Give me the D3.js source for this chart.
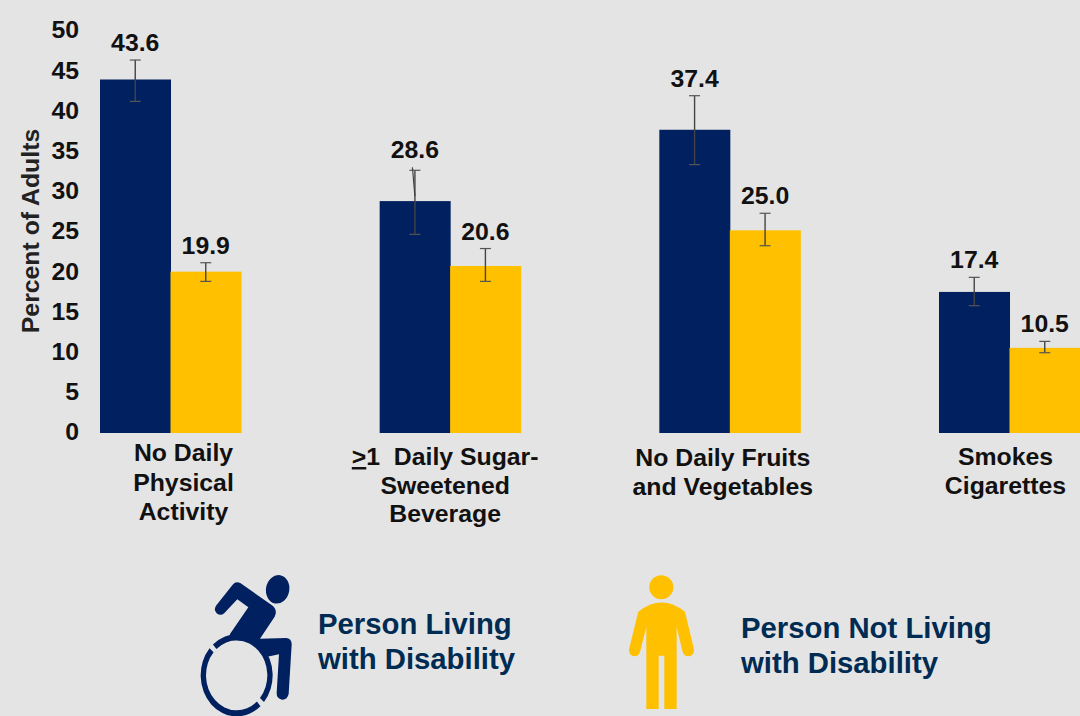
<!DOCTYPE html>
<html>
<head>
<meta charset="utf-8">
<script src="https://cdn.jsdelivr.net/npm/d3@7/dist/d3.min.js"></script>
<style>
  html, body { margin: 0; padding: 0; background: #e4e4e4; overflow: hidden; }
  text { font-family: "Liberation Sans", Arial, sans-serif; }
</style>
</head>
<body>
<div id="chart"></div>
<script>
// values
var categories = ["No Daily Physical Activity", "Daily Sugar-Sweetened Beverage", "No Daily Fruits and Vegetables", "Smokes Cigarettes"];
var seriesNames = ["Person Living with Disability", "Person Not Living with Disability"];
var disabilityValues = [43.6, 28.6, 37.4, 17.4];
var noDisabilityValues = [19.9, 20.6, 25.0, 10.5];
var disabilityLow = [40.9, 24.5, 33.1, 15.7];
var disabilityHigh = [46.0, 32.4, 41.6, 19.2];
var noDisabilityLow = [18.7, 18.7, 23.1, 9.9];
var noDisabilityHigh = [21.0, 22.75, 27.1, 11.3];
var yTicks = [0, 5, 10, 15, 20, 25, 30, 35, 40, 45, 50];
var categoryLines = [
    ["No Daily", "Physical", "Activity"],
    ["\u003E1  Daily Sugar-", "Sweetened", "Beverage"],
    ["No Daily Fruits", "and Vegetables"],
    ["Smokes", "Cigarettes"]
];

// layout only
var width = 1080, height = 716;
var labelDx = [13, -5, -7, -4];
var labelY = [452, 456, 457, 456];
var labelStep = [29.5, 28.5, 29, 28.5];
var navy = "#002060", gold = "#ffc000", legendText = "#002b53";
var fontSize = 24.8;

var svg = d3.select("#chart").append("svg")
    .attr("width", width)
    .attr("height", height)
    .style("display", "block");

svg.append("rect").attr("width", width).attr("height", height).attr("fill", "#e4e4e4");

var y = d3.scaleLinear().domain([0, 50]).range([433, 27.6]);
var x = d3.scaleBand().domain(categories).range([100, 1080]).paddingInner(0.4958).paddingOuter(0);
var x1 = d3.scaleBand().domain(seriesNames).range([0, x.bandwidth()]);

// Y axis, its labels sit a bit tighter than the bars in the original
var yLabels = y.copy().range([431, 29]);
var yAxis = svg.append("g")
    .attr("transform", "translate(82,0)")
    .call(d3.axisLeft(yLabels).tickValues(yTicks).tickSize(0).tickPadding(3));
yAxis.select(".domain").remove();
yAxis.selectAll("text")
    .attr("font-size", fontSize)
    .attr("font-weight", "bold")
    .attr("dy", "0.36em")
    .attr("fill", "#111");

svg.append("text")
    .attr("transform", "translate(39,231) rotate(-90)")
    .attr("text-anchor", "middle")
    .attr("font-size", fontSize)
    .attr("font-weight", "bold")
    .attr("fill", "#222")
    .text("Percent of Adults");

// bars, error bars, labels
var rows = [];
categories.forEach(function(c, i) {
    rows.push({cat: c, s: seriesNames[0], v: disabilityValues[i], lo: disabilityLow[i], hi: disabilityHigh[i], fill: navy, lift: i === 1 ? 3 : 0});
    rows.push({cat: c, s: seriesNames[1], v: noDisabilityValues[i], lo: noDisabilityLow[i], hi: noDisabilityHigh[i], fill: gold, lift: 0});
});

var groups = svg.selectAll(".bar").data(rows).enter().append("g").attr("class", "bar");

groups.append("rect")
    .attr("x", function(d) { return x(d.cat) + x1(d.s); })
    .attr("y", function(d) { return y(d.v); })
    .attr("width", x1.bandwidth() + 0.5)
    .attr("height", function(d) { return y(0) - y(d.v); })
    .attr("fill", function(d) { return d.fill; });

function midX(d) { return x(d.cat) + x1(d.s) + x1.bandwidth() / 2; }

groups.append("line")
    .attr("x1", midX).attr("x2", midX)
    .attr("y1", function(d) { return y(d.lo); })
    .attr("y2", function(d) { return y(d.hi); })
    .attr("stroke", "#444").attr("stroke-width", 1.4);

["lo", "hi"].forEach(function(k) {
    groups.append("line")
        .attr("x1", function(d) { return midX(d) - 5.5; })
        .attr("x2", function(d) { return midX(d) + 5.5; })
        .attr("y1", function(d) { return y(d[k]); })
        .attr("y2", function(d) { return y(d[k]); })
        .attr("stroke", "#555").attr("stroke-width", 1.2);
});

// the hand drawn overshoot on the sugar drink whisker
groups.filter(function(d) { return d.lift > 0; }).append("line")
    .attr("x1", midX)
    .attr("x2", function(d) { return midX(d) - 2.5; })
    .attr("y1", function(d) { return y(d.v) - 5; })
    .attr("y2", function(d) { return y(d.hi) - d.lift; })
    .attr("stroke", "#444").attr("stroke-width", 1.2);

groups.append("text")
    .attr("x", midX)
    .attr("y", function(d) { return y(d.hi) - 9 - d.lift; })
    .attr("text-anchor", "middle")
    .attr("font-size", fontSize)
    .attr("font-weight", "bold")
    .attr("fill", "#111")
    .text(function(d) { return d.v.toFixed(1); });

// category labels
categories.forEach(function(c, i) {
    var cx = x(c) + x.bandwidth() / 2 + labelDx[i];
    var t = svg.append("text")
        .attr("text-anchor", "middle")
        .attr("font-size", fontSize)
        .attr("font-weight", "bold")
        .attr("fill", "#111");
    categoryLines[i].forEach(function(line, j) {
        var ts = t.append("tspan").attr("x", cx).attr("y", labelY[i] + 9 + j * labelStep[i]);
        if (line[0] === "\u003E") {
            ts.append("tspan").attr("text-decoration", "underline").text(">");
            ts.append("tspan").style("white-space", "pre").text(line.slice(1));
        } else {
            ts.text(line);
        }
    });
});

// wheelchair icon, drawn in zoom coordinates
var icon1 = svg.append("g").attr("transform", "translate(180,560) scale(0.3333)").attr("fill", navy);
icon1.append("ellipse").attr("cx", 293).attr("cy", 88).attr("rx", 35).attr("ry", 43).attr("transform", "rotate(10 293 88)");
icon1.append("path").attr("d", "M108,137 L158,74 Q168,62 182,70 L276,136 Q294,150 284,170 L240,236 L318,234 Q336,236 335,254 L326,402 Q322,420 306,419 Q290,416 290,400 L297,283 L262,290 L240,260 L200,241 L150,241 L150,222 L205,142 L172,118 L134,158 Q122,170 110,160 Q100,150 108,137 Z");
var arc = d3.arc().innerRadius(92).outerRadius(108);
var wheel = icon1.append("g").attr("transform", "translate(170,346) scale(1,1.14)");
wheel.append("path").attr("d", arc({startAngle: -0.72, endAngle: 2.28}));
wheel.append("path").attr("d", arc({startAngle: 2.42, endAngle: 5.43}));

// person icon
var icon2 = svg.append("g").attr("transform", "translate(600,560) scale(0.3333)").attr("fill", gold);
icon2.append("circle").attr("cx", 184).attr("cy", 82).attr("r", 36);
icon2.append("path").attr("d", "M115,155 Q185,100 255,155 L282,268 Q283,288 265,289 Q250,288 247,272 L230,200 L230,447 L193,447 L193,287 L176,287 L176,447 L139,447 L139,200 L121,272 Q118,289 103,289 Q86,288 87,268 Z");

// legend text
[[318, 634, "Person Living"], [318, 669, "with Disability"], [741, 638, "Person Not Living"], [741, 673, "with Disability"]].forEach(function(l) {
    svg.append("text").attr("x", l[0]).attr("y", l[1])
        .attr("font-size", 29.3).attr("font-weight", "bold").attr("fill", legendText).text(l[2]);
});
</script>
</body>
</html>
